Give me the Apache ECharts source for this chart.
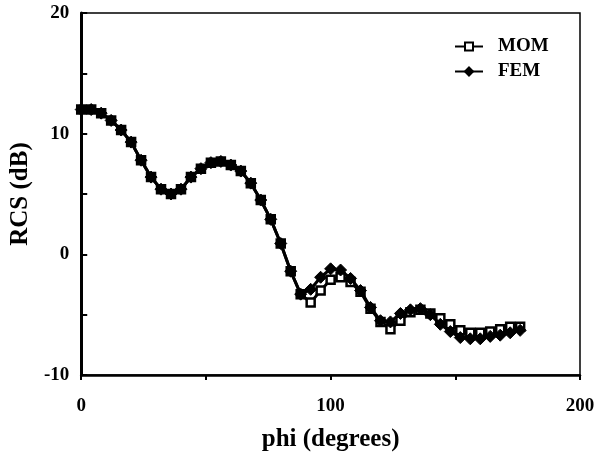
<!DOCTYPE html>
<html>
<head>
<meta charset="utf-8">
<script src="https://cdn.jsdelivr.net/npm/echarts@6/dist/echarts.min.js"></script>
<style>
  html, body { margin: 0; padding: 0; background: #fff; }
  #chart { width: 605px; height: 457px; }
</style>
</head>
<body>
<div id="chart"></div>
<script>
// Scattering angle (degrees)
const phi = [0, 4, 8, 12, 16, 20, 24, 28, 32, 36, 40, 44, 48, 52, 56, 60, 64, 68, 72, 76,
             80, 84, 88, 92, 96, 100, 104, 108, 112, 116, 120, 124, 128, 132, 136, 140,
             144, 148, 152, 156, 160, 164, 168, 172, 176];

// RCS (dB), method of moments
const rcsMOM = [12.0, 12.0, 11.7, 11.1, 10.3, 9.3, 7.8, 6.4, 5.4, 5.0, 5.4, 6.4, 7.1, 7.6, 7.7,
                7.4, 6.9, 5.9, 4.5, 2.9, 0.9, -1.4, -3.3, -4.0, -3.0, -2.1, -1.9, -2.3, -3.1,
                -4.5, -5.6, -6.2, -5.5, -4.8, -4.6, -4.9, -5.3, -5.8, -6.3, -6.5, -6.5, -6.4,
                -6.2, -6.0, -6.0];

// RCS (dB), finite element method
const rcsFEM = [12.0, 12.0, 11.7, 11.1, 10.3, 9.3, 7.8, 6.4, 5.4, 5.0, 5.4, 6.4, 7.1, 7.6, 7.7,
                7.4, 6.9, 5.9, 4.5, 2.9, 0.9, -1.4, -3.3, -2.9, -1.9, -1.2, -1.3, -2.0, -3.0,
                -4.4, -5.5, -5.6, -4.9, -4.6, -4.5, -5.0, -5.8, -6.4, -6.9, -7.0, -7.0, -6.8,
                -6.7, -6.5, -6.3];

const xTicks = [0, 100, 200];
const yTicks = [-10, 0, 10, 20];

const font = 'Liberation Serif, Times New Roman, serif';
const pairs = (ys) => phi.map((p, i) => [p, ys[i]]);

const chart = echarts.init(document.getElementById('chart'), null, { renderer: 'canvas' });
chart.setOption({
  animation: false,
  backgroundColor: '#fff',
  grid: {
    left: 81, right: 25, top: 13, bottom: 80,
    show: true, borderColor: '#000', borderWidth: 1.5
  },
  legend: {
    orient: 'vertical',
    left: 449, top: 32,
    itemWidth: 28, itemHeight: 10, itemGap: 6,
    textStyle: {
      fontFamily: font, fontWeight: 'bold', fontSize: 19, color: '#000',
      padding: [0, 0, 0, 10]
    },
    data: ['MOM', 'FEM']
  },
  xAxis: {
    type: 'value', min: 0, max: 200, interval: 50,
    name: 'phi (degrees)', nameLocation: 'middle', nameGap: 52,
    nameTextStyle: { fontFamily: font, fontWeight: 'bold', fontSize: 25, color: '#000' },
    axisLine: { onZero: false, lineStyle: { color: '#000', width: 2.5 } },
    axisTick: { show: true, inside: false, length: 5, lineStyle: { color: '#000', width: 2 } },
    axisLabel: {
      margin: 22, fontFamily: font, fontWeight: 'bold', fontSize: 19, color: '#000',
      formatter: (v) => (xTicks.includes(v) ? String(v) : '')
    },
    splitLine: { show: false }
  },
  yAxis: {
    type: 'value', min: -10, max: 20, interval: 5,
    name: 'RCS (dB)', nameLocation: 'middle', nameGap: 46, nameRotate: 90,
    nameTextStyle: { fontFamily: font, fontWeight: 'bold', fontSize: 25, color: '#000' },
    axisLine: { onZero: false, lineStyle: { color: '#000', width: 3 } },
    axisTick: { show: true, inside: true, length: 6, lineStyle: { color: '#000', width: 2 } },
    axisLabel: {
      margin: 12, fontFamily: font, fontWeight: 'bold', fontSize: 19, color: '#000',
      formatter: (v) => (yTicks.includes(v) ? String(v) : '')
    },
    splitLine: { show: false }
  },
  series: [
    {
      name: 'MOM', type: 'line', data: pairs(rcsMOM), z: 2,
      symbol: 'rect', symbolSize: 8,
      lineStyle: { color: '#000', width: 3 },
      itemStyle: { color: '#fff', borderColor: '#000', borderWidth: 2.5 }
    },
    {
      name: 'FEM', type: 'line', data: pairs(rcsFEM), z: 3,
      symbol: 'diamond', symbolSize: 12,
      lineStyle: { color: '#000', width: 3 },
      itemStyle: { color: '#000', borderColor: '#000', borderWidth: 1 }
    }
  ]
});
</script>
</body>
</html>
